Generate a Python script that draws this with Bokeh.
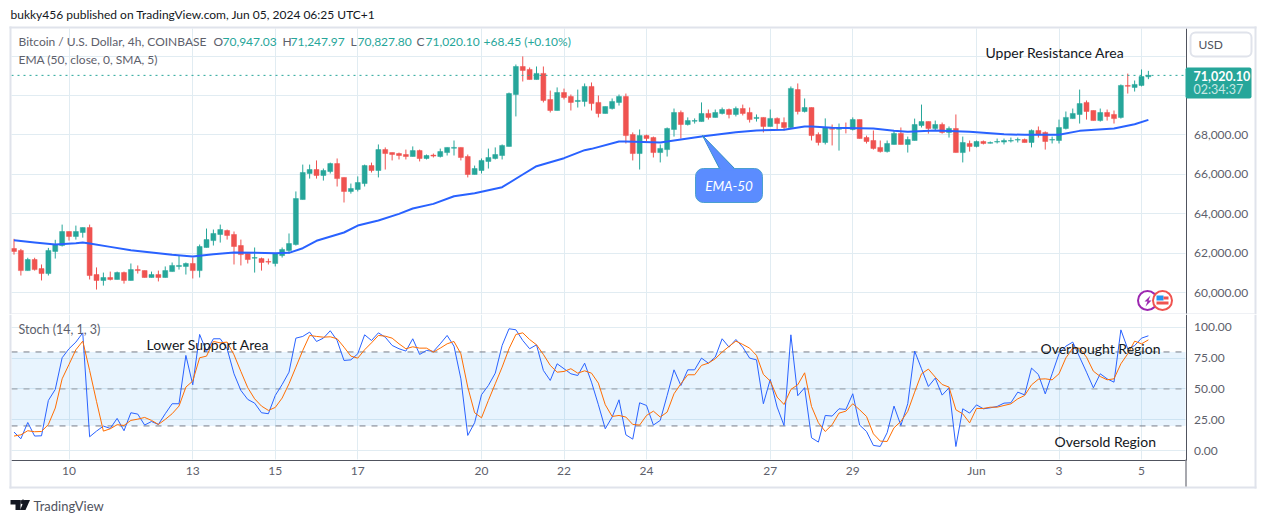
#Bitcoin 4h candles with EMA-50 and a stochastic pane

#Import required packages

import numpy as np
from bokeh.embed import file_html
from bokeh.layouts import column
from bokeh.models import BoxAnnotation, FixedTicker, Label, LinearAxis, NumeralTickFormatter, PolyAnnotation, Range1d
from bokeh.plotting import ColumnDataSource, figure
from bokeh.resources import INLINE

#Values

opens = [62250,62150,61130,61690,61230,60980,62100,62400,63110,62860,
         63060,63310,60930,60630,60780,60680,61030,60630,61180,61130,
         60780,60930,60780,61080,61340,61340,61490,61130,62300,62650,
         62960,63160,62960,62400,62000,61760,61740,61590,61490,61890,
         62150,62450,64730,66050,66250,65950,66150,66550,65850,65140,
         65240,65540,66450,66200,67260,67110,67060,67010,66910,67210,
         66810,66980,66910,67110,67330,67370,66910,66000,66200,66660,
         66810,66960,67420,70050,71470,71320,70810,71120,69800,69240,
         70150,69950,69700,69700,70460,69650,69090,69340,69650,69950,
         68020,67060,67970,67870,67110,67260,68280,69140,68530,68700,
         68680,69090,68890,69090,69290,69040,69340,69140,68840,68890,
         68430,68840,68630,68380,70300,69190,69390,68020,67620,68330,
         68290,68380,68280,68780,67870,67720,67370,67160,67520,68080,
         67520,67720,68480,68680,68330,68530,68130,68330,67110,67570,
         67420,67670,67580,67640,67640,67690,67740,67770,67620,68230,
         68130,67740,67720,68330,68830,69040,69650,69240,68730,69140,
         69040,68890,70510,70410,70510,70947.03]

highs = [62740,62230,61780,61780,61440,62280,62690,63460,63110,63410,
         63310,63460,61290,61030,61080,61080,61080,61490,61390,61130,
         61080,61130,61340,61540,61890,61540,61790,62450,63260,63210,
         63460,63210,63110,62700,62000,62300,61790,61740,62000,62300,
         63010,65140,66500,66500,66710,66300,66600,66810,65850,65540,
         65900,66500,66600,67520,67370,67110,67110,67260,67420,67260,
         67010,67060,67310,67370,67720,67370,67010,66450,66810,67310,
         67370,67520,70150,71570,71980,71420,71470,71470,70250,70410,
         70350,70050,70300,70610,70660,70000,69440,69850,70050,70100,
         68130,68280,68020,67920,67520,68380,69340,69240,68890,68840,
         69650,69290,69290,69390,69340,69440,69540,69390,69040,68890,
         69290,68890,68890,70460,70610,69850,69390,68130,68840,68530,
         68580,68630,68890,68780,67970,68230,67720,67720,68230,68380,
         67920,68830,69540,68680,68730,68630,68430,69040,67920,67720,
         67720,67720,67670,67820,67820,67870,67870,67820,68280,68430,
         68180,67920,68780,69190,69340,70300,69750,69240,69340,69290,
         69240,70560,71110,70760,71320,71247.97]

lows = [61940,60880,61130,61130,60630,60880,61740,62350,62650,62700,
        62800,60680,60170,60370,60630,60680,60470,60630,60980,60780,
        60780,60580,60780,61080,61180,60930,60730,60780,62300,62400,
        62550,62700,61440,61390,61490,61030,61130,61440,61340,61790,
        61990,62400,64730,65790,65790,65690,66050,65390,64580,65030,
        65140,65390,66100,65850,66250,66710,66760,66760,66910,66660,
        66760,66860,66860,66960,66960,66710,65850,66000,66050,66300,
        66760,66760,67420,68940,70710,70810,70810,69650,69140,69240,
        69800,69240,69390,69440,69240,68890,69090,69290,69490,67570,
        66710,66250,67670,66860,66610,66910,67920,67820,68480,68580,
        68680,68780,68890,69040,68840,68940,68990,68630,68680,68130,
        68430,68280,68230,68330,69040,69140,67720,67470,67520,67470,
        67210,68080,68230,67820,67570,67260,67110,67110,67520,67520,
        67110,67720,68380,68070,68230,68070,67870,67110,66610,67160,
        67370,67520,67570,67570,67520,67620,67620,67620,67370,67870,
        67260,67570,67570,68280,68830,68580,68780,68730,68680,68730,
        68580,68830,70100,70200,70460,70827.80]

closes = [62100,61130,61690,61180,60980,62150,62450,63110,62860,63110,
          63310,60880,60630,60780,60680,61030,60630,61180,61130,60780,
          60930,60780,61130,61390,61390,61490,61130,62350,62700,63010,
          63210,62910,62350,61940,61690,61790,61540,61560,62000,62200,
          62500,64780,66100,66250,65950,66200,66550,65790,65140,65290,
          65590,66450,66200,67260,67060,67010,66960,66910,67210,66810,
          66960,66930,67160,67370,67370,66860,66000,66300,66710,66860,
          67010,67470,70100,71470,71270,70810,71120,69750,69240,70150,
          69900,69650,69750,70460,69590,69090,69440,69700,69950,67970,
          67060,67970,67820,67110,67320,68330,69140,68530,68730,68730,
          69090,68890,69140,69290,69040,69340,69090,68780,68890,68430,
          68840,68580,68380,70360,69190,69390,67970,67620,68380,68290,
          68330,68340,68780,67820,67670,67320,67160,67570,68080,67520,
          67770,68530,68680,68330,68530,68130,68330,67110,67620,67420,
          67670,67570,67620,67670,67720,67720,67770,67620,68230,68020,
          67670,67770,68380,68890,69090,69590,69190,68730,69140,68940,
          68830,70510,70470,70560,70960,71020.10]

ema_index = [0,3,6,9,10,11,14,17,20,23,26,29,32,35,38,40,42,44,48,50,53,56,58,61,64,67,71,74,76,80,83,
             84,88,89,94,97,100,105,108,112,115,116,119,125,128,130,134,139,144,147,152,155,160,163,165]
ema_values = [62670,62552,62450,62518,62552,62500,62332,62163,62045,61927,61842,61961,62045,62028,62011,62028,
              62265,62640,63060,63410,63666,64004,64274,64511,64899,65051,65355,65997,66419,66825,67230,
              67298,67670,67670,67619,67771,67923,68142,68227,68260,68430,68430,68362,68328,68210,68159,
              68226,68158,68040,68007,68007,68209,68327,68547,68767]

stoch_k = [15.0,9.6,22.8,11.8,12.0,40.7,49.6,75.3,82.6,88.0,95.5,11.2,15.8,19.9,18.0,26.1,16.1,30.7,29.6,20.7,
           23.6,21.2,29.9,38.0,38.0,77.2,53.4,94.2,80.4,90.7,90.7,82.6,62.3,48.8,41.5,38.5,30.7,29.9,44.7,53.6,
           63.6,91.2,92.6,96.1,88.5,91.2,97.2,89.3,73.1,73.6,78.5,93.9,89.3,95.5,92.0,85.3,82.6,80.7,90.7,78.0,
           81.2,80.4,86.6,93.4,84.7,58.2,12.3,22.6,45.3,52.8,62.8,85.3,98.8,98.0,89.3,82.6,85.8,65.0,56.9,70.4,
           66.4,62.3,60.9,70.9,55.5,37.2,17.7,27.2,41.2,12.8,9.3,38.8,36.6,20.7,24.5,44.7,65.5,52.8,65.5,65.5,
           75.0,70.9,75.8,90.7,83.9,90.1,83.9,75.0,73.6,38.0,57.7,35.3,20.4,93.9,44.5,51.0,10.4,6.9,28.5,28.0,
           33.9,33.4,46.1,20.7,15.5,4.2,3.4,14.5,36.1,20.4,38.0,80.7,66.4,52.0,58.8,45.0,50.9,3.3,33.9,30.4,
           37.1,33.9,34.7,35.8,38.5,38.8,47.4,45.2,66.9,61.7,46.0,62.3,78.5,84.7,88.0,75.8,63.6,50.9,62.3,58.2,
           55.5,97.9,82.5,85.2,91.2,93.1]

stoch_d = [11.8,12.8,16.1,15.3,15.5,21.2,34.5,58.2,69.9,81.8,88.8,65.0,39.9,15.8,17.7,21.0,20.4,24.5,25.5,26.9,
           24.5,21.2,25.3,29.9,36.1,51.5,56.4,75.3,76.6,88.5,87.4,88.0,77.7,64.2,51.0,42.0,36.1,32.6,35.0,42.6,
           54.2,67.7,81.2,93.4,92.6,92.0,92.3,90.7,83.9,76.6,75.0,81.8,87.4,93.4,92.8,91.2,86.6,82.6,84.2,83.1,
           83.1,79.9,83.1,86.6,88.5,78.5,51.5,30.7,26.6,40.7,54.2,67.7,82.6,94.2,95.5,90.1,85.8,78.0,69.1,63.6,
           64.2,66.4,62.8,64.7,62.8,54.7,37.2,27.7,28.5,27.2,21.2,20.7,28.5,32.0,27.2,31.2,46.1,54.2,61.5,61.5,
           69.1,70.9,74.5,79.9,84.5,88.8,86.1,83.1,77.2,61.8,56.4,43.4,37.4,49.6,53.4,63.1,35.8,22.6,15.5,21.0,
           30.4,32.0,38.0,33.1,27.7,13.6,7.7,7.4,18.5,23.6,31.8,47.4,62.3,66.1,59.6,53.6,51.5,33.1,29.8,22.5,
           34.2,34.2,35.2,35.2,36.6,37.9,42.0,44.7,53.3,57.9,58.2,57.4,62.3,75.2,83.1,83.1,75.8,64.4,60.1,57.4,
           58.2,70.4,78.5,88.8,86.6,89.8]

tick_index = [8,26,38,50,68,80,92,110,122,140,152,164]
tick_labels = ['10','13','15','17','20','22','24','27','29','Jun','3','5']
price_ticks = [60000,62000,64000,66000,68000]
price_grid = [60000,62000,64000,66000,68000,70000,72000]
stoch_ticks = [0,25,50,75,100]
stoch_levels = [80,50,20]
stoch_level_colors = ['#787b86','#9598a1','#787b86']

GREEN = '#26a69a'
RED = '#ef5350'
GRID = '#e1ecf2'
EDGE = '#e0e3eb'
AXIS = '#50535e'
TEXT = '#5d606b'
DARK = '#131722'
FONT = 'Lato'

#Each pane fills its own canvas, so axes and notes sit inside the frame

WIDTH = 1260
PRICE_HEIGHT = 314
STOCH_HEIGHT = 206

def page_x(px):
    return (px - 13.5) / 6.875

def price_y(py):
    return 60000 + (292.4 - py) * 50.66

def stoch_y(py):
    return (450.1 - py) / 1.233

x_range = Range1d(page_x(0), page_x(WIDTH))
LEFT = page_x(11)
RIGHT = page_x(1185)

price = figure(width=WIDTH, height=PRICE_HEIGHT, x_range=x_range, y_range=Range1d(price_y(PRICE_HEIGHT), price_y(0)),
               x_axis_location=None, y_axis_location=None, output_backend='svg', toolbar_location=None, min_border=0)

stoch = figure(width=WIDTH, height=STOCH_HEIGHT, x_range=x_range, y_range=Range1d(stoch_y(PRICE_HEIGHT + STOCH_HEIGHT), stoch_y(PRICE_HEIGHT)),
               x_axis_location=None, y_axis_location=None, output_backend='svg', toolbar_location=None, min_border=0)

def style_axis(axis):
    axis.major_tick_line_color = None
    axis.minor_tick_line_color = None
    axis.major_tick_out = 0
    axis.major_tick_in = 0
    axis.axis_line_color = AXIS
    axis.major_label_text_color = TEXT
    axis.major_label_text_font = FONT
    axis.major_label_text_font_size = '12px'

price_axis = LinearAxis(fixed_location=page_x(1185.5), ticker=FixedTicker(ticks=price_ticks),
                        formatter=NumeralTickFormatter(format='0,0.00'), bounds=(price_y(314), price_y(28)))
stoch_axis = LinearAxis(fixed_location=page_x(1185.5), ticker=FixedTicker(ticks=stoch_ticks),
                        formatter=NumeralTickFormatter(format='0.00'), bounds=(stoch_y(459.5), stoch_y(314)))
time_axis = LinearAxis(fixed_location=stoch_y(459.5), ticker=FixedTicker(ticks=tick_index),
                       major_label_overrides=dict(zip(tick_index, tick_labels)), bounds=(LEFT, RIGHT))
for axis in [price_axis, stoch_axis, time_axis]:
    style_axis(axis)
price_axis.major_label_standoff = 8
stoch_axis.major_label_standoff = 8
time_axis.major_label_standoff = 3
price.add_layout(price_axis, 'right')
stoch.add_layout(stoch_axis, 'right')
stoch.add_layout(time_axis, 'below')

#Grids stop at the chart edges

for plot, low, high in [(price, price_y(313.5), price_y(28)), (stoch, stoch_y(459), stoch_y(314))]:
    plot.outline_line_color = None
    plot.xgrid.ticker = FixedTicker(ticks=tick_index)
    plot.xgrid.grid_line_color = GRID
    plot.xgrid.cross_bounds = (low, high)
    plot.ygrid.grid_line_color = GRID
    plot.ygrid.cross_bounds = (LEFT, RIGHT)

price.ygrid.ticker = FixedTicker(ticks=price_grid)
stoch.ygrid.ticker = FixedTicker(ticks=stoch_ticks)

#Helpers for the drawn notes, given in page pixels

def to_y(plot, py):
    return price_y(py) if plot is price else stoch_y(py)

def box(plot, left, right, top, bottom, fill, line=None, radius=0, width=1):
    plot.add_layout(BoxAnnotation(left=page_x(left), right=page_x(right), top=to_y(plot, top), bottom=to_y(plot, bottom),
                                  fill_color=fill, fill_alpha=1, line_color=line, line_alpha=1, line_width=width,
                                  border_radius=radius, level='annotation'))

def poly(plot, xs, ys, fill, line=None):
    plot.add_layout(PolyAnnotation(xs=[page_x(v) for v in xs], ys=[to_y(plot, v) for v in ys],
                                   fill_color=fill, fill_alpha=1, line_color=line, line_alpha=1, level='annotation'))

def text(plot, px, py, words, color=TEXT, size='12px', style='normal', align='left'):
    plot.add_layout(Label(x=page_x(px), y=to_y(plot, py), text=words, text_color=color, text_font=FONT, level='overlay',
                          text_font_size=size, text_font_style=style, text_align=align, text_baseline='middle'))

#Candles

index = np.arange(len(closes))
candle_colors = [GREEN if c >= o else RED for o, c in zip(opens, closes)]
candles = ColumnDataSource(data={'x': index, 'open': opens, 'high': highs, 'low': lows, 'close': closes, 'color': candle_colors})

price.segment('x', 'high', 'x', 'low', source=candles, color='color', line_width=1)
price.vbar(x='x', top='open', bottom='close', width=0.72, source=candles, fill_color='color', line_color='color', line_width=0.5)
price.line(ema_index, ema_values, color='#2962ff', line_width=2, line_join='round')
price.segment([LEFT], [closes[-1]], [RIGHT], [closes[-1]], line_color=GREEN, line_dash='dotted', line_width=1)

#Stochastic pane

stoch.add_layout(BoxAnnotation(left=LEFT, right=RIGHT, top=stoch_levels[0], bottom=stoch_levels[2], fill_color='#2196f3',
                               fill_alpha=0.1, line_color=None, level='underlay'))
stoch.segment([LEFT] * 3, stoch_levels, [RIGHT] * 3, stoch_levels, line_color=stoch_level_colors, line_dash='dashed', line_width=1)
stoch.line(index, stoch_k, color='#2962ff', line_width=1)
stoch.line(index, stoch_d, color='#ff6d00', line_width=1)

#Frame around the chart

box(price, 9, 1256, 26, 28, EDGE)
box(price, 9, 11, 26, 314, EDGE)
box(price, 1254, 1256, 26, 314, EDGE)
box(price, 11, 1254, 313, 314, EDGE)
box(stoch, 9, 11, 314, 488, EDGE)
box(stoch, 1254, 1256, 314, 488, EDGE)
box(stoch, 9, 1256, 486, 488, EDGE)
box(stoch, 1185, 1186, 459, 486, AXIS)

#Header and legend text

text(price, 10, 14, 'bukky456 published on TradingView.com, Jun 05, 2024 06:25 UTC+1', DARK)
text(price, 18, 41, 'Bitcoin / U.S. Dollar, 4h, COINBASE')
text(price, 213, 41, 'O')
text(price, 222, 41, '70,947.03', GREEN)
text(price, 282, 41, 'H')
text(price, 290, 41, '71,247.97', GREEN)
text(price, 350, 41, 'L')
text(price, 357, 41, '70,827.80', GREEN)
text(price, 416, 41, 'C')
text(price, 425, 41, '71,020.10', GREEN)
text(price, 483, 41, '+68.45 (+0.10%)', GREEN)
text(price, 18, 59, 'EMA (50, close, 0, SMA, 5)')
text(stoch, 18, 329, 'Stoch (14, 1, 3)', TEXT, '12.5px')

text(price, 985, 52, 'Upper Resistance Area', DARK, '14px')
text(stoch, 146, 344, 'Lower Support Area', DARK, '14px')
text(stoch, 1040, 348, 'Overbought Region', DARK, '14px')
text(stoch, 1054, 441, 'Oversold Region', DARK, '14px')

#USD button and last price tag

box(price, 1190, 1251, 32, 56, 'white', EDGE, 5, 2)
text(price, 1198, 44, 'USD', AXIS)
box(price, 1185, 1251, 67, 98, GREEN, None, 2)
text(price, 1193, 75, '71,020.10', 'white', '12.5px', 'bold')
text(price, 1193, 89, '02:34:37', '#c8e8e5', '12.5px')

#EMA-50 callout

poly(price, [702, 720, 736], [135, 170, 170], '#5b8cff', '#2e8fbf')
box(price, 695, 762, 168, 202, '#5b8cff', '#4a9fd0', 8)
poly(price, [703, 721, 735], [137, 170, 170], '#5b8cff')
text(price, 728.5, 185, 'EMA-50', 'white', '13.5px', 'italic', 'center')

#Event badges near the bottom of the price pane

price.scatter([page_x(1147)], [price_y(300)], size=19, fill_color='white', line_color='#9c27b0', line_width=2, level='annotation')
price.scatter([page_x(1162)], [price_y(300)], size=19, fill_color='white', line_color='#ef5350', line_width=2, level='annotation')
poly(price, [1150, 1144, 1147, 1145, 1151, 1148], [295, 301, 301, 306, 300, 300], '#9c27b0')
box(price, 1156, 1163, 295, 300, '#2196f3')
box(price, 1163, 1168, 296, 299, '#ef5350')
box(price, 1156, 1168, 301, 304, '#ef5350')

#TradingView mark in the bottom corner

box(stoch, 10, 20, 499.5, 504, DARK)
box(stoch, 15, 20, 499.5, 509.5, DARK)
poly(stoch, [24, 29.5, 25, 19.5], [499.5, 499.5, 509.5, 509.5], DARK)
stoch.scatter([page_x(22.5)], [stoch_y(501.5)], size=4, color=DARK, level='annotation')
text(stoch, 33, 505, 'TradingView', AXIS, '13px')

#Output the page

layout = column(price, stoch, spacing=0)
open('out.html', 'w').write(file_html(layout, INLINE))
